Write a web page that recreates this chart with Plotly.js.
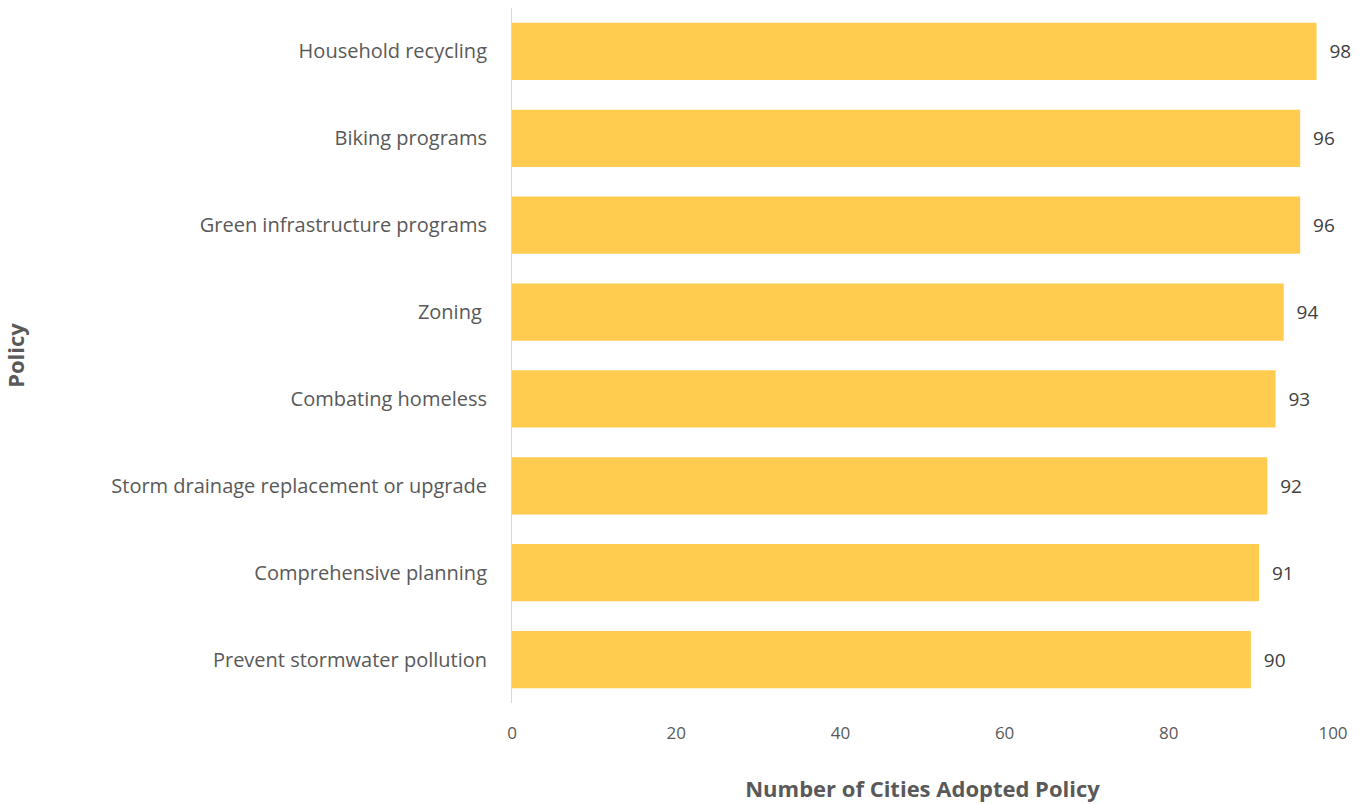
<!DOCTYPE html>
<html>
<head>
<meta charset="utf-8">
<script src="https://cdn.plot.ly/plotly-3.0.1.min.js"></script>
<style>html,body{margin:0;padding:0;background:#fff;}#chart{width:1364px;height:805px;}</style>
</head>
<body>
<div id="chart"></div>
<script>
const policies = [
  "Prevent stormwater pollution",
  "Comprehensive planning",
  "Storm drainage replacement or upgrade",
  "Combating homeless",
  "Zoning ",
  "Green infrastructure programs",
  "Biking programs",
  "Household recycling"
];
const cities = [90, 91, 92, 93, 94, 96, 96, 98];
const xTicks = [0, 20, 40, 60, 80, 100];

const fontFam = '"Open Sans", "Noto Sans", sans-serif';
const trace = {
  type: 'bar',
  orientation: 'h',
  y: policies,
  x: cities,
  text: cities.map(v => '  ' + v),
  textposition: 'outside',
  textfont: {family: fontFam, size: 19, color: '#404040'},
  cliponaxis: false,
  marker: {color: '#FFCC4F'},
  hoverinfo: 'x+y'
};
const layout = {
  width: 1364, height: 805,
  margin: {l: 512, r: 31, t: 8, b: 102},
  paper_bgcolor: '#ffffff', plot_bgcolor: '#ffffff',
  bargap: 0.34,
  showlegend: false,
  font: {family: fontFam, color: '#595959'},
  xaxis: {
    range: [0, 100],
    tickvals: xTicks,
    ticktext: xTicks.map(String),
    showgrid: false, zeroline: false, showline: false,
    ticks: '', ticklabelstandoff: 18,
    tickfont: {size: 17, color: '#595959'},
    title: {text: '<b>Number of Cities Adopted Policy</b>', font: {size: 22, color: '#595959'}, standoff: 38}
  },
  yaxis: {
    showgrid: false, zeroline: false,
    showline: true, linecolor: '#D9D9D9', linewidth: 1,
    ticks: '', ticklabelstandoff: 20,
    tickfont: {size: 20, color: '#595959'},
    automargin: false,
    title: {text: '<b>Policy</b>', font: {size: 22, color: '#595959'}, standoff: 453}
  }
};
Plotly.newPlot('chart', [trace], layout, {displayModeBar: false, staticPlot: true});
</script>
</body>
</html>
